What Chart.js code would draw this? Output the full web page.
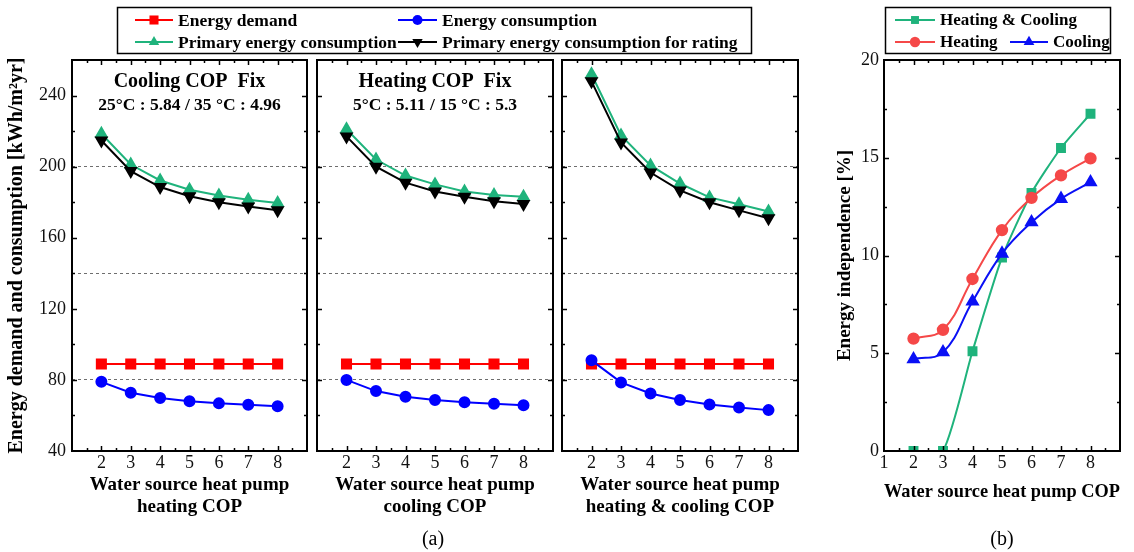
<!DOCTYPE html>
<html>
<head>
<meta charset="utf-8">
<script src="https://cdn.jsdelivr.net/npm/chart.js@4.4.1/dist/chart.umd.min.js"></script>
<style>
  html, body { margin: 0; padding: 0; background: #fff; }
  #wrap { position: relative; width: 1134px; height: 552px; overflow: hidden; }
  #wrap canvas { position: absolute; left: 0; top: 0; }
</style>
</head>
<body>
<div id="wrap">
  <canvas id="pHeat" width="1134" height="552"></canvas>
  <canvas id="pCool" width="1134" height="552"></canvas>
  <canvas id="pBoth" width="1134" height="552"></canvas>
  <canvas id="pIndep" width="1134" height="552"></canvas>
</div>
<script>
// ---- data -------------------------------------------------------------
const copValues = [2, 3, 4, 5, 6, 7, 8];

// cooling COP fixed, heating COP varied  [kWh/m2yr]
const heatVarDemand      = [89, 89, 89, 89, 89, 89, 89];
const heatVarConsumption = [78.9, 72.8, 69.8, 68.0, 66.8, 66.0, 65.2];
const heatVarPrimary     = [218.5, 201.2, 192.2, 187.0, 183.8, 181.4, 179.5];
const heatVarRating      = [214.7, 197.5, 188.5, 183.3, 180.0, 177.6, 175.4];

// heating COP fixed, cooling COP varied
const coolVarDemand      = [89, 89, 89, 89, 89, 89, 89];
const coolVarConsumption = [80.0, 73.7, 70.5, 68.7, 67.4, 66.6, 65.8];
const coolVarPrimary     = [221.0, 204.0, 195.0, 190.0, 186.0, 184.0, 183.0];
const coolVarRating      = [217.0, 200.0, 191.0, 186.0, 183.0, 180.5, 179.0];

// heating & cooling COP varied together
const bothVarDemand      = [89, 89, 89, 89, 89, 89, 89];
const bothVarConsumption = [91.0, 78.6, 72.4, 68.7, 66.2, 64.5, 63.0];
const bothVarPrimary     = [252.0, 217.5, 200.7, 190.5, 182.7, 178.8, 174.8];
const bothVarRating      = [248.0, 213.6, 196.7, 186.6, 180.0, 175.4, 171.0];

// energy independence [%]
const indepBoth    = [0, 0, 5.1, 9.9, 13.2, 15.5, 17.25];
const indepHeating = [5.75, 6.2, 8.8, 11.3, 12.95, 14.1, 14.97];
const indepCooling = [4.7, 5.05, 7.65, 10.1, 11.7, 12.9, 13.75];

// tick labels and reference levels
const xTicksA = [2, 3, 4, 5, 6, 7, 8];
const xTicksB = [1, 2, 3, 4, 5, 6, 7, 8];
const yTicksA = [40, 80, 120, 160, 200, 240];
const yTicksB = [0, 5, 10, 15, 20];
const refLines = [80, 140, 200];

// ---- styling ----------------------------------------------------------
const SERIF = '"Liberation Serif", "Times New Roman", serif';
const RED = '#ff0000', BLUE = '#0000ff', GREEN = '#1fb37c', BLACK = '#000000';
const RED_B = '#f54848', BLUE_B = '#0a10f5', GREEN_B = '#1fb37c';
const W = 1134, H = 552, TOP = 60, BOTTOM = 451, XH = 70;

const pts = (vals) => copValues.map((c, i) => ({ x: c, y: vals[i] }));

function seriesA(demand, consumption, primary, rating) {
  return [
    { label: 'Energy demand', data: pts(demand), borderColor: RED, backgroundColor: RED,
      pointStyle: 'rect', pointRadius: 6.4, borderWidth: 2, order: 4 },
    { label: 'Energy consumption', data: pts(consumption), borderColor: BLUE, backgroundColor: BLUE,
      pointStyle: 'circle', pointRadius: 5, borderWidth: 2, order: 2 },
    { label: 'Primary energy consumption', data: pts(primary), borderColor: GREEN, backgroundColor: GREEN,
      pointStyle: 'triangle', pointRadius: 6, borderWidth: 2, order: 3 },
    { label: 'Primary energy consumption for rating', data: pts(rating), borderColor: BLACK, backgroundColor: BLACK,
      pointStyle: 'triangle', pointRotation: 180, pointRadius: 6, borderWidth: 2, order: 1 }
  ];
}

const seriesB = [
  { label: 'Heating & Cooling', data: pts(indepBoth), borderColor: GREEN_B, backgroundColor: GREEN_B,
    pointStyle: 'rect', pointRadius: 5.6, borderWidth: 2, tension: 0.2, order: 3 },
  { label: 'Heating', data: pts(indepHeating), borderColor: RED_B, backgroundColor: RED_B,
    pointStyle: 'circle', pointRadius: 5.2, borderWidth: 2, tension: 0.4, order: 2 },
  { label: 'Cooling', data: pts(indepCooling), borderColor: BLUE_B, backgroundColor: BLUE_B,
    pointStyle: 'triangle', pointRadius: 6.2, borderWidth: 2, tension: 0.4, order: 1 }
];

// small marker used in the legend boxes
function drawMarker(ctx, ds, x, y) {
  const r = ds.pointRadius;
  ctx.save();
  ctx.fillStyle = ds.backgroundColor;
  ctx.translate(x, y);
  if (ds.pointRotation) ctx.rotate(ds.pointRotation * Math.PI / 180);
  ctx.beginPath();
  if (ds.pointStyle === 'rect') {
    const s = r * Math.SQRT1_2;
    ctx.rect(-s, -s, 2 * s, 2 * s);
  } else if (ds.pointStyle === 'circle') {
    ctx.arc(0, 0, r, 0, Math.PI * 2);
  } else {
    ctx.moveTo(0, -r);
    ctx.lineTo(r * 0.866, r * 0.5);
    ctx.lineTo(-r * 0.866, r * 0.5);
    ctx.closePath();
  }
  ctx.fill();
  ctx.restore();
}

function drawLegend(ctx, box, fontSize, items) {
  ctx.save();
  ctx.lineWidth = 1.5;
  ctx.strokeStyle = '#000';
  ctx.strokeRect(box[0], box[1], box[2], box[3]);
  ctx.font = 'bold ' + fontSize + 'px ' + SERIF;
  ctx.textAlign = 'left';
  ctx.textBaseline = 'middle';
  items.forEach(it => {
    ctx.strokeStyle = it.ds.borderColor;
    ctx.lineWidth = 2;
    ctx.beginPath();
    ctx.moveTo(it.x0, it.y);
    ctx.lineTo(it.x1, it.y);
    ctx.stroke();
    drawMarker(ctx, it.ds, (it.x0 + it.x1) / 2, it.y);
    ctx.fillStyle = '#000';
    ctx.fillText(it.ds.label, it.x1 + 5, it.y + 1);
  });
  ctx.restore();
}

// axis frame with inward tick marks on all four sides, plus panel texts
const framePlugin = {
  id: 'frame',
  afterDraw(chart, args, o) {
    const { ctx, chartArea: a, scales: { x, y } } = chart;
    ctx.save();
    ctx.strokeStyle = '#000';
    ctx.lineWidth = 1.5;
    const seg = (x0, y0, x1, y1) => { ctx.beginPath(); ctx.moveTo(x0, y0); ctx.lineTo(x1, y1); ctx.stroke(); };
    const isMajor = (v, step) => Math.abs(v / step - Math.round(v / step)) < 1e-6;
    for (let v = x.min + o.xMinor; v < x.max - 1e-9; v += o.xMinor) {
      const p = Math.round(x.getPixelForValue(v)) + 0.5;
      const L = isMajor(v, o.xMajor) ? 5 : 3;
      seg(p, a.bottom, p, a.bottom - L);
      seg(p, a.top, p, a.top + L);
    }
    for (let v = y.min + o.yMinor; v < y.max - 1e-9; v += o.yMinor) {
      const p = Math.round(y.getPixelForValue(v)) + 0.5;
      const L = isMajor(v - o.yBase, o.yMajor) ? 5 : 3;
      seg(a.left, p, a.left + L, p);
      seg(a.right, p, a.right - L, p);
    }
    ctx.lineWidth = 2;
    ctx.strokeRect(a.left, a.top, a.width, a.height);

    ctx.fillStyle = '#000';
    ctx.textAlign = 'center';
    ctx.textBaseline = 'middle';
    const cx = (a.left + a.right) / 2;
    (o.notes || []).forEach(n => {
      ctx.font = n.font;
      ctx.fillText(n.text, cx, n.y);
    });
    if (o.tag) {
      ctx.font = '20px ' + SERIF;
      ctx.fillText(o.tag.text, o.tag.x, o.tag.y);
    }
    if (o.legend) o.legend(ctx, chart);
    ctx.restore();
  }
};

function makePanel(id, p) {
  return new Chart(document.getElementById(id), {
    type: 'line',
    data: { datasets: p.datasets },
    options: {
      responsive: false,
      animation: false,
      events: [],
      layout: { padding: { left: p.left - p.yW, right: W - p.right, top: TOP, bottom: H - BOTTOM - XH } },
      plugins: {
        legend: { display: false },
        tooltip: { enabled: false },
        frame: p.frame
      },
      scales: {
        x: {
          type: 'linear', min: 1, max: 9,
          afterFit: s => { s.height = XH; },
          grid: { display: false, drawTicks: false },
          border: { display: false },
          ticks: {
            stepSize: 1, autoSkip: false, maxRotation: 0, padding: 1, color: '#111',
            font: { family: SERIF, size: 18 },
            callback: v => p.xLabels.includes(v) ? String(v) : ''
          },
          title: {
            display: true, text: p.xTitle, color: '#000',
            font: { family: SERIF, size: 19, weight: 'bold', lineHeight: 22 / 19 },
            padding: { top: 0, bottom: p.xTitlePad }
          }
        },
        y: {
          type: 'linear', min: p.yMin, max: p.yMax,
          afterFit: s => { s.width = p.yW; },
          grid: {
            display: p.refGrid, drawTicks: false, lineWidth: 1,
            color: c => (c.tick && refLines.includes(c.tick.value)) ? '#6e6e6e' : 'rgba(0,0,0,0)'
          },
          border: { display: false, dash: [3, 3] },
          ticks: {
            display: p.yLabels !== null, stepSize: p.yStep, autoSkip: false, padding: p.yPad, color: '#111',
            font: { family: SERIF, size: 18 },
            callback: v => (p.yLabels && p.yLabels.includes(v)) ? String(v) : ''
          },
          title: {
            display: !!p.yTitle, text: p.yTitle || '', color: '#000',
            font: { family: SERIF, size: p.yTitleSize || 18, weight: 'bold' },
            padding: { top: p.yTitlePad || 0, bottom: 0 }
          }
        }
      }
    },
    plugins: [framePlugin]
  });
}

const noteBig = 'bold 20px ' + SERIF;
const noteSmall = 'bold 17.5px ' + SERIF;
const frameA = { xMajor: 1, xMinor: 0.5, yMajor: 40, yMinor: 20, yBase: 40 };

const dsHeat = seriesA(heatVarDemand, heatVarConsumption, heatVarPrimary, heatVarRating);

makePanel('pHeat', {
  datasets: dsHeat, left: 72, right: 307, yW: 72,
  yMin: 40, yMax: 260, yStep: 20, yLabels: yTicksA, yPad: 6, refGrid: true,
  yTitle: 'Energy demand and consumption [kWh/m\u00B2yr]', yTitleSize: 20, yTitlePad: 4.5,
  xLabels: xTicksA, xTitle: ['Water source heat pump', 'heating COP'], xTitlePad: 3,
  frame: Object.assign({}, frameA, {
    notes: [
      { text: 'Cooling COP  Fix', y: 82, font: noteBig },
      { text: '25\u00B0C : 5.84 / 35 \u00B0C : 4.96', y: 105, font: noteSmall }
    ],
    tag: { text: '(a)', x: 433, y: 540 },
    legend: (ctx) => drawLegend(ctx, [117.5, 7.5, 634, 46], 17.5, [
      { ds: dsHeat[0], x0: 135, x1: 173, y: 20 },
      { ds: dsHeat[1], x0: 398, x1: 437, y: 20 },
      { ds: dsHeat[2], x0: 135, x1: 173, y: 42 },
      { ds: dsHeat[3], x0: 398, x1: 437, y: 42 }
    ])
  })
});

makePanel('pCool', {
  datasets: seriesA(coolVarDemand, coolVarConsumption, coolVarPrimary, coolVarRating),
  left: 317, right: 553, yW: 0,
  yMin: 40, yMax: 260, yStep: 20, yLabels: null, yPad: 0, refGrid: true,
  xLabels: xTicksA, xTitle: ['Water source heat pump', 'cooling COP'], xTitlePad: 3,
  frame: Object.assign({}, frameA, {
    notes: [
      { text: 'Heating COP  Fix', y: 82, font: noteBig },
      { text: '5\u00B0C : 5.11 / 15 \u00B0C : 5.3', y: 105, font: noteSmall }
    ]
  })
});

makePanel('pBoth', {
  datasets: seriesA(bothVarDemand, bothVarConsumption, bothVarPrimary, bothVarRating),
  left: 562, right: 798, yW: 0,
  yMin: 40, yMax: 260, yStep: 20, yLabels: null, yPad: 0, refGrid: true,
  xLabels: xTicksA, xTitle: ['Water source heat pump', 'heating & cooling COP'], xTitlePad: 3,
  frame: Object.assign({}, frameA, {})
});

makePanel('pIndep', {
  datasets: seriesB, left: 884, right: 1120, yW: 60,
  yMin: 0, yMax: 20, yStep: 5, yLabels: yTicksB, yPad: 5, refGrid: false,
  yTitle: 'Energy independence [%]', yTitleSize: 19, yTitlePad: 9.5,
  xLabels: xTicksB, xTitle: 'Water source heat pump COP', xTitlePad: 18,
  frame: {
    xMajor: 1, xMinor: 0.5, yMajor: 5, yMinor: 2.5, yBase: 0,
    tag: { text: '(b)', x: 1002, y: 540 },
    legend: (ctx) => drawLegend(ctx, [885.5, 7.5, 225, 46], 17, [
      { ds: seriesB[0], x0: 895, x1: 935, y: 20 },
      { ds: seriesB[1], x0: 895, x1: 935, y: 42 },
      { ds: seriesB[2], x0: 1010, x1: 1048, y: 42 }
    ])
  }
});
</script>
</body>
</html>
